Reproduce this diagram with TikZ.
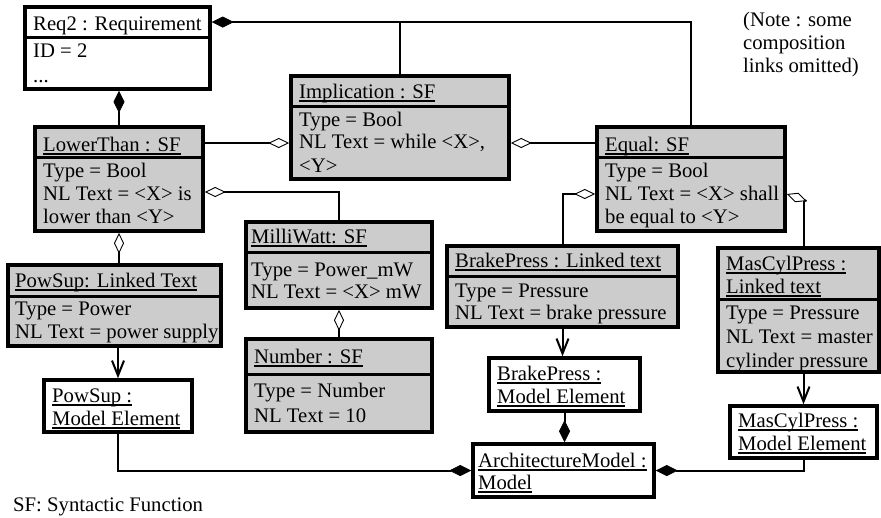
\documentclass[tikz,border=0pt]{standalone}
\usepackage{fontspec}
\setmainfont{Liberation Serif}
\usetikzlibrary{arrows.meta,fit,calc}
\definecolor{boxgray}{RGB}{204,204,204}
\newcommand\ul[1]{\setbox0\hbox{#1}\rlap{\vrule height -2.2pt depth 3.5pt width \wd0}\box0}
\tikzset{
  sfbox/.style={draw, line width=3.5pt, fill=boxgray, inner sep=0pt},
  wbox/.style={draw, line width=3.5pt, fill=white, inner sep=0pt},
  sepline/.style={line width=3pt},
  txt/.style={anchor=base west, inner sep=0pt, font=\fontsize{20.7}{24}\selectfont},
  conn/.style={line width=2pt},
  comp/.style={conn, -{Diamond[length=22pt,width=11pt,line width=0.6pt]}},
  agg/.style={conn, -{Diamond[open,length=21pt,width=10pt,line width=0.9pt,fill=white]}},
  dep/.style={conn, -{Straight Barb[length=15pt,width=12pt]}},
}
\begin{document}
\begin{tikzpicture}[x=1pt,y=-1pt]
\useasboundingbox (0,0) rectangle (881,517);
% boxes
\node[wbox, fit={(25,7)(210,89)}] (req) {};
\node[sfbox, fit={(35,127)(203,231)}] (lt) {};
\node[sfbox, fit={(291,76)(509,179)}] (imp) {};
\node[sfbox, fit={(597,127)(785,231)}] (eq) {};
\node[sfbox, fit={(8,265)(221,346)}] (ps) {};
\node[sfbox, fit={(246,222)(432,308)}] (mw) {};
\node[sfbox, fit={(246,339)(432,432)}] (num) {};
\node[sfbox, fit={(447,246)(678,327)}] (bp) {};
\node[sfbox, fit={(718,248)(879,372)}] (mcl) {};
\node[wbox, fit={(44,380)(192,432)}] (pme) {};
\node[wbox, fit={(489,358)(640,411)}] (bme) {};
\node[wbox, fit={(730,406)(877,458)}] (mme) {};
\node[wbox, fit={(473,444)(654,497)}] (arch) {};
% separators
\draw[sepline] (25,37) -- (210,37);
\draw[sepline] (35,157) -- (203,157);
\draw[sepline] (291,106) -- (509,106);
\draw[sepline] (597,157) -- (785,157);
\draw[sepline] (8,296) -- (221,296);
\draw[sepline] (246,252) -- (432,252);
\draw[sepline] (246,374) -- (432,374);
\draw[sepline] (447,276) -- (678,276);
\draw[sepline] (718,299) -- (879,299);
% texts
\node[txt] (req1) at (33,30) {Req2 : Requirement};
\node[txt] (req2) at (33,57.5) {ID = 2};
\node[txt] (req3) at (33,82) {...};
\node[txt] (lt1) at (43,151) {\ul{LowerThan : SF}};
\node[txt] (lt2) at (43,177) {Type = Bool};
\node[txt] (lt3) at (43,200) {NL Text = <X> is};
\node[txt] (lt4) at (43,223) {lower than <Y>};
\node[txt] (imp1) at (299,98) {\ul{Implication : SF}};
\node[txt] (imp2) at (299,126) {Type = Bool};
\node[txt] (imp3) at (299,148) {NL Text = while <X>,};
\node[txt] (imp4) at (299,172) {<Y>};
\node[txt] (eq1) at (605,151) {\ul{Equal: SF}};
\node[txt] (eq2) at (605,177) {Type = Bool};
\node[txt] (eq3) at (605,200) {NL Text = <X> shall};
\node[txt] (eq4) at (605,223) {be equal to <Y>};
\node[txt] (ps1) at (15,287) {\ul{PowSup: Linked Text}};
\node[txt] (ps2) at (15,315) {Type = Power};
\node[txt] (ps3) at (15,338) {NL Text = power supply};
\node[txt] (mw1) at (251,243) {\ul{MilliWatt: SF}};
\node[txt] (mw2) at (251,276) {Type = Power\_mW};
\node[txt] (mw3) at (251,298) {NL Text = <X> mW};
\node[txt] (num1) at (254,363) {\ul{Number : SF}};
\node[txt] (num2) at (254,397) {Type = Number};
\node[txt] (num3) at (254,422) {NL Text = 10};
\node[txt] (bp1) at (455,267) {\ul{BrakePress : Linked text}};
\node[txt] (bp2) at (455,297) {Type = Pressure};
\node[txt] (bp3) at (455,319) {NL Text = brake pressure};
\node[txt] (mcl1) at (726,270) {\ul{MasCylPress :}};
\node[txt] (mcl2) at (726,293) {\ul{Linked text}};
\node[txt] (mcl3) at (726,319) {Type = Pressure};
\node[txt] (mcl4) at (726,343) {NL Text = master};
\node[txt] (mcl5) at (726,367) {cylinder pressure};
\node[txt] (pme1) at (52,402) {\ul{PowSup :}};
\node[txt] (pme2) at (52,425) {\ul{Model Element}};
\node[txt] (bme1) at (497,380) {\ul{BrakePress :}};
\node[txt] (bme2) at (497,403) {\ul{Model Element}};
\node[txt] (mme1) at (738,427) {\ul{MasCylPress :}};
\node[txt] (mme2) at (738,450) {\ul{Model Element}};
\node[txt] (arch1) at (478,467) {\ul{ArchitectureModel :}};
\node[txt] (arch2) at (478,489) {\ul{Model}};
\node[txt] (note1) at (743,26) {(Note : some};
\node[txt] (note2) at (743,49) {composition};
\node[txt] (note3) at (743,72) {links omitted)};
\node[txt] (legend) at (13,511) {SF: Syntactic Function};
% level helpers
\coordinate (ytop) at (0,22);
\coordinate (y143) at (0,143);
\coordinate (y192) at (0,192);
\coordinate (y194) at (0,194);
\coordinate (y200) at (0,200);
% connectors
\draw[comp] (eq.north) |- (req.east |- ytop);
\draw[conn] (imp.north) -- (imp.north |- ytop);
\draw[comp] (lt.north) -- (lt.north |- req.south);
\draw[agg] (lt.east |- y143) -- (imp.west |- y143);
\draw[agg] (eq.west |- y143) -- (imp.east |- y143);
\draw[agg] (mw.north) |- (lt.east |- y192);
\draw[agg] (lt.south |- ps.north) -- (lt.south);
\draw[dep] (pme.north |- ps.south) -- (pme.north);
\draw[agg] (num.north) -- (mw.south);
\draw[agg] (bp.north) |- (eq.west |- y194);
\draw[conn] (mme.north |- mcl.north) -- (mme.north |- y200);
\draw[agg] ($(mme.north |- y200)+(3,1)$) -- (eq.east |- y194);
\draw[dep] (bp.south) -- (bp.south |- bme.north);
\draw[dep] (mme.north |- mcl.south) -- (mme.north);
\draw[comp] (pme.south) |- (arch.west);
\draw[comp] (bme.south) -- (bme.south |- arch.north);
\draw[comp] (mme.south) |- (arch.east);
\end{tikzpicture}
\end{document}
